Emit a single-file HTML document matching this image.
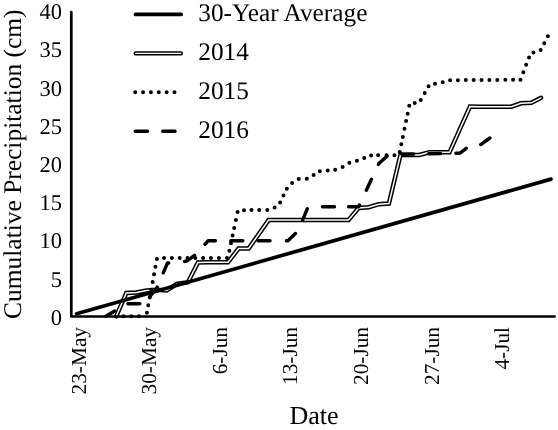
<!DOCTYPE html>
<html><head><meta charset="utf-8"><style>
html,body{margin:0;padding:0;background:#fff;}
svg{display:block;will-change:transform;}
text{font-family:"Liberation Serif",serif;fill:#000;text-rendering:geometricPrecision;}
</style></head><body>
<svg width="558" height="430" viewBox="0 0 558 430">
<rect width="558" height="430" fill="#fff"/>
<g font-size="22.5">
<text x="62" y="324.7" text-anchor="end">0</text>
<text x="62" y="286.5" text-anchor="end">5</text>
<text x="62" y="248.3" text-anchor="end">10</text>
<text x="62" y="210.1" text-anchor="end">15</text>
<text x="62" y="171.9" text-anchor="end">20</text>
<text x="62" y="133.7" text-anchor="end">25</text>
<text x="62" y="95.5" text-anchor="end">30</text>
<text x="62" y="57.3" text-anchor="end">35</text>
<text x="62" y="19.1" text-anchor="end">40</text>
<text transform="translate(85.5,327) rotate(-90)" text-anchor="end" font-size="21.3">23-May</text>
<text transform="translate(156.1,327) rotate(-90)" text-anchor="end" font-size="21.3">30-May</text>
<text transform="translate(226.7,327) rotate(-90)" text-anchor="end" font-size="21.3">6-Jun</text>
<text transform="translate(297.3,327) rotate(-90)" text-anchor="end" font-size="21.3">13-Jun</text>
<text transform="translate(367.9,327) rotate(-90)" text-anchor="end" font-size="21.3">20-Jun</text>
<text transform="translate(438.5,327) rotate(-90)" text-anchor="end" font-size="21.3">27-Jun</text>
<text transform="translate(509.1,327) rotate(-90)" text-anchor="end" font-size="21.3">4-Jul</text>
</g>
<text transform="translate(21,318.9) rotate(-90)" font-size="25.45">Cumulative Precipitation (cm)</text>
<text x="289.5" y="424" font-size="26">Date</text>
<polyline points="116.20,316.30 126.30,293.00 136.40,292.50 146.50,290.50 156.60,289.80 166.70,290.50 176.80,284.00 187.90,282.30 198.00,262.50 207.10,262.20 217.20,262.20 228.00,262.20 238.60,248.60 248.70,248.40 268.60,220.10 277.80,220.10 287.90,220.10 298.00,220.10 308.10,220.10 318.20,220.10 328.30,220.10 338.40,220.10 348.50,220.10 358.60,208.00 368.70,207.20 378.80,204.20 388.90,203.60 400.50,154.80 409.10,155.00 419.20,155.00 429.30,152.30 439.40,152.30 449.50,152.30 470.00,106.60 479.80,106.70 489.90,106.70 500.00,106.70 511.30,106.70 521.00,103.30 531.40,102.80 541.00,97.80" fill="none" stroke="#000" stroke-width="4.5" stroke-linejoin="miter" stroke-linecap="round"/>
<polyline points="116.20,316.30 126.30,293.00 136.40,292.50 146.50,290.50 156.60,289.80 166.70,290.50 176.80,284.00 187.90,282.30 198.00,262.50 207.10,262.20 217.20,262.20 228.00,262.20 238.60,248.60 248.70,248.40 268.60,220.10 277.80,220.10 287.90,220.10 298.00,220.10 308.10,220.10 318.20,220.10 328.30,220.10 338.40,220.10 348.50,220.10 358.60,208.00 368.70,207.20 378.80,204.20 388.90,203.60 400.50,154.80 409.10,155.00 419.20,155.00 429.30,152.30 439.40,152.30 449.50,152.30 470.00,106.60 479.80,106.70 489.90,106.70 500.00,106.70 511.30,106.70 521.00,103.30 531.40,102.80 541.00,97.80" fill="none" stroke="#fff" stroke-width="1.5" stroke-linejoin="miter" stroke-linecap="round"/>
<line x1="76.6" y1="313.7" x2="551" y2="179.1" stroke="#000" stroke-width="3.7" stroke-linecap="round"/>
<path d="M123.50,316.30h0M131.40,316.30h0M138.90,316.30h0M146.88,312.69h0M148.26,305.29h0M149.72,297.50h0M151.17,289.70h0M152.63,281.91h0M154.05,274.31h0M155.47,266.70h0M156.93,258.91h0M164.02,258.00h0M171.86,258.00h0M179.70,258.00h0M187.50,258.00h0M195.30,258.00h0M203.10,258.00h0M210.90,258.00h0M218.90,258.00h0M227.00,258.00h0M229.34,250.77h0M230.96,243.18h0M232.58,235.60h0M234.20,228.02h0M235.91,220.00h0M237.59,212.10h0M244.00,210.14h0M251.50,210.06h0M259.20,210.00h0M267.30,210.00h0M274.60,207.50h0M280.11,202.50h0M283.48,195.59h0M286.83,188.72h0M292.14,183.03h0M298.71,179.00h0M306.80,178.68h0M313.61,175.05h0M319.85,171.22h0M327.70,170.60h0M335.22,169.75h0M342.64,166.92h0M349.38,162.63h0M356.91,160.84h0M364.25,157.90h0M371.11,155.46h0M378.11,155.31h0M386.50,155.30h0M394.40,155.25h0M399.75,152.06h0M401.34,144.31h0M402.87,136.91h0M404.53,128.86h0M406.14,121.01h0M407.65,113.69h0M409.27,105.82h0M414.69,103.01h0M420.77,100.12h0M424.70,93.09h0M428.57,86.17h0M435.00,83.79h0M442.70,82.31h0M450.10,80.29h0M457.90,80.13h0M465.80,80.07h0M473.70,80.03h0M481.50,79.99h0M489.40,79.95h0M497.30,79.91h0M505.40,79.87h0M513.10,79.84h0M520.47,79.63h0M523.34,72.22h0M526.20,64.84h0M529.04,57.52h0M533.45,52.51h0M540.64,50.02h0M544.25,43.27h0M547.89,36.34h0" fill="none" stroke="#000" stroke-width="4" stroke-linecap="round"/>
<path d="M106.00,316.30 L114.58,310.95 M127.90,303.70 L139.90,303.70 M149.90,296.54 L156.60,288.40 L157.17,287.06 M163.27,272.86 L167.50,263.00 L168.77,262.95 M184.49,261.41 L186.90,261.00 L194.57,255.30 M204.99,244.28 L208.00,240.80 L215.40,240.80 M230.80,240.80 L242.80,240.80 M258.00,240.80 L270.00,240.80 M286.41,240.80 L287.90,240.80 L295.44,233.48 M302.67,219.82 L307.29,208.74 M322.50,206.80 L334.50,206.80 M348.50,206.80 L358.60,206.80 L359.40,205.08 M366.35,190.20 L371.42,179.32 M378.40,164.36 L378.80,163.50 L387.05,156.15 M401.70,154.25 L413.69,154.04 M428.61,153.77 L440.60,153.56 M455.86,153.22 L460.00,153.10 L466.25,148.33 M480.68,144.57 L489.90,138.00" fill="none" stroke="#000" stroke-width="3.4" stroke-linejoin="round" stroke-linecap="round"/>
<path d="M71.3,12.2 V316.5 H554.6" fill="none" stroke="#000" stroke-width="2.7" stroke-linejoin="round" stroke-linecap="round"/>
<line x1="135.6" y1="14.4" x2="181.1" y2="14.4" stroke="#000" stroke-width="3.9" stroke-linecap="round"/>
<line x1="135.8" y1="53.4" x2="180.8" y2="53.4" stroke="#000" stroke-width="4.4" stroke-linecap="round"/>
<line x1="135.8" y1="53.4" x2="180.8" y2="53.4" stroke="#fff" stroke-width="1.2" stroke-linecap="round"/>
<line x1="135.2" y1="92.3" x2="176" y2="92.3" stroke="#000" stroke-width="4" stroke-linecap="round" stroke-dasharray="0 7.86"/>
<line x1="135.3" y1="131.2" x2="176" y2="131.2" stroke="#000" stroke-width="3.5" stroke-linecap="round" stroke-dasharray="12.2 15.3"/>
<g font-size="25.3">
<text x="198.3" y="21.2">30-Year Average</text>
<text x="198.3" y="60">2014</text>
<text x="198.3" y="98.9">2015</text>
<text x="198.3" y="137.9">2016</text>
</g>
</svg>
</body></html>
